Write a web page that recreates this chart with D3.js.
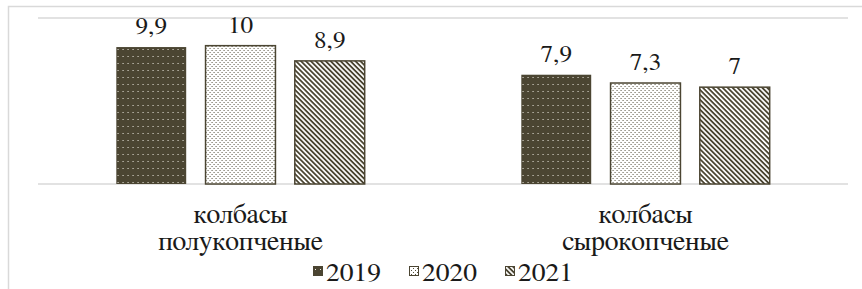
<!DOCTYPE html>
<html>
<head>
<meta charset="utf-8">
<script src="https://cdn.jsdelivr.net/npm/d3@7"></script>
<style>
  body { margin: 0; background: #fff; }
</style>
</head>
<body>
<div id="chart"></div>
<script>
// data
const categories = ['колбасы\nполукопченые', 'колбасы\nсырокопченые'];
const years = ['2019', '2020', '2021'];
const values2019 = [9.9, 7.9];
const values2020 = [10, 7.3];
const values2021 = [8.9, 7];
const valueLabels = [['9,9', '10', '8,9'], ['7,9', '7,3', '7']];
const yTicks = [0, 12];

const W = 862, H = 289;
const margin = { top: 18, right: 14, bottom: 105, left: 38 };
const width = W - margin.left - margin.right;
const height = H - margin.top - margin.bottom;

const dark = '#4b4532';
const font = 'FreeSerif';

const svg = d3.select('#chart').append('svg')
  .attr('width', W)
  .attr('height', H);

// patterns
const defs = svg.append('defs');
const p19 = defs.append('pattern').attr('id', 'p2019')
  .attr('patternUnits', 'userSpaceOnUse').attr('width', 5).attr('height', 7);
p19.append('rect').attr('width', 5).attr('height', 7).attr('fill', dark);
p19.append('rect').attr('x', 2).attr('y', 3).attr('width', 1).attr('height', 1).attr('fill', '#f0ede4');

const p20 = defs.append('pattern').attr('id', 'p2020')
  .attr('patternUnits', 'userSpaceOnUse').attr('width', 4).attr('height', 4);
p20.append('rect').attr('width', 4).attr('height', 4).attr('fill', '#fff');
p20.append('rect').attr('x', 0).attr('y', 0).attr('width', 1).attr('height', 1).attr('fill', '#55503c');
p20.append('rect').attr('x', 2).attr('y', 2).attr('width', 1).attr('height', 1).attr('fill', '#55503c');

const p21 = defs.append('pattern').attr('id', 'p2021')
  .attr('patternUnits', 'userSpaceOnUse').attr('width', 3.5).attr('height', 3.5)
  .attr('patternTransform', 'rotate(45)');
p21.append('rect').attr('width', 3.5).attr('height', 3.5).attr('fill', '#fff');
p21.append('rect').attr('width', 3.5).attr('height', 1.8).attr('fill', dark);

const fills = { '2019': 'url(#p2019)', '2020': 'url(#p2020)', '2021': 'url(#p2021)' };

// outer frame
svg.append('rect')
  .attr('x', 8.5).attr('y', 6.5)
  .attr('width', W).attr('height', H)
  .attr('fill', 'none')
  .attr('stroke', '#d9d9d9')
  .attr('stroke-width', 1.5);

const group = svg.append('g')
  .attr('transform', 'translate(' + margin.left + ',' + margin.top + ')');

const x0 = d3.scaleBand().domain(d3.range(categories.length))
  .range([0, width]).paddingInner(0.383).paddingOuter(0.1915);
const x1 = d3.scaleBand().domain(years)
  .range([0, x0.bandwidth()]).paddingInner(0.2).paddingOuter(0);
const y = d3.scaleLinear().domain([0, 12]).range([height, 0]);

// gridlines
group.selectAll('.grid').data(yTicks).enter().append('line')
  .attr('x1', 0).attr('x2', width)
  .attr('y1', d => y(d)).attr('y2', d => y(d))
  .attr('stroke', '#d9d9d9').attr('stroke-width', 1.5);

const rows = categories.map((c, i) => ({
  i,
  vals: [values2019[i], values2020[i], values2021[i]]
}));

const grp = group.selectAll('.cat').data(rows).enter().append('g')
  .attr('transform', d => 'translate(' + x0(d.i) + ',0)');

grp.selectAll('rect').data(d => d.vals.map((v, j) => ({ v, year: years[j] })))
  .enter().append('rect')
  .attr('x', d => x1(d.year) + 0.75)
  .attr('width', x1.bandwidth() - 1.5)
  .attr('y', d => y(d.v))
  .attr('height', d => height - y(d.v))
  .attr('fill', d => fills[d.year])
  .attr('stroke', dark)
  .attr('stroke-width', d => d.year === '2019' ? 0 : 1.5);

grp.selectAll('.val').data(d => d.vals.map((v, j) => ({ v, year: years[j], label: valueLabels[d.i][j] })))
  .enter().append('text')
  .attr('class', 'val')
  .attr('text-anchor', 'middle')
  .attr('font-family', font)
  .attr('font-size', 24)
  .attr('fill', '#1a1a1a')
  .attr('transform', d => 'translate(' + (x1(d.year) + x1.bandwidth() / 2) + ',' + (y(d.v) - 13) + ') scale(1.05,1)')
  .text(d => d.label);

// category labels
categories.forEach((c, i) => {
  const t = group.append('text')
    .attr('text-anchor', 'middle')
    .attr('font-family', font)
    .attr('font-size', 27)
    .attr('fill', '#1a1a1a')
    .attr('transform', 'translate(' + (x0(i) + x0.bandwidth() / 2) + ',' + (height + 39) + ') scale(1.03,1)');
  c.split('\n').forEach((line, k) => {
    t.append('tspan').attr('x', 0).attr('dy', k === 0 ? 0 : 27).text(line);
  });
});

// legend
const legend = svg.append('g').attr('transform', 'translate(313,0)');
years.forEach((yr, i) => {
  const g = legend.append('g').attr('transform', 'translate(' + (i * 96) + ',0)');
  g.append('rect')
    .attr('x', 0.5).attr('y', 266.5).attr('width', 9).attr('height', 9)
    .attr('fill', fills[yr]).attr('stroke', dark).attr('stroke-width', 1);
  g.append('text')
    .attr('font-family', font)
    .attr('font-size', 25)
    .attr('fill', '#1a1a1a')
    .attr('transform', 'translate(13,281) scale(1.1,1)')
    .text(yr);
});
</script>
</body>
</html>
